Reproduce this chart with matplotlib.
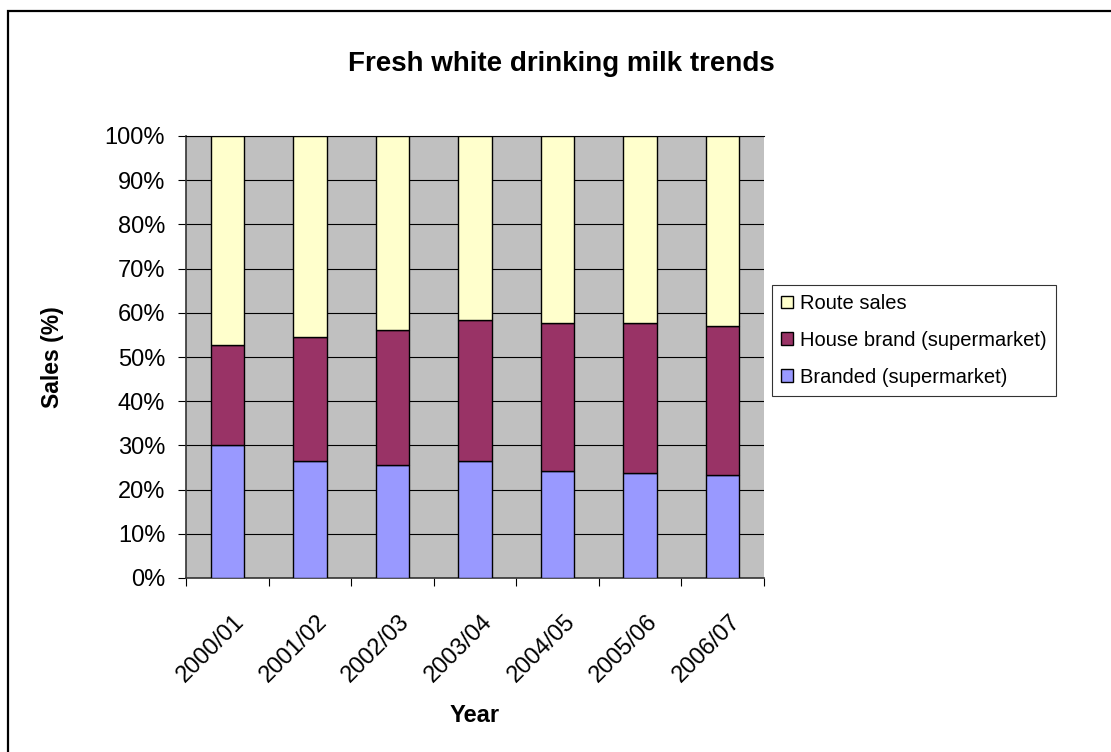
#!/usr/bin/env python3
"""Fresh white drinking milk trends -- 100% stacked bars, Excel-2003 look."""
import matplotlib
matplotlib.use("Agg")
import matplotlib.pyplot as plt
from matplotlib.patches import Patch, Rectangle
from matplotlib.ticker import FixedLocator, FuncFormatter, NullFormatter
from matplotlib.transforms import ScaledTranslation

plt.rcParams["font.family"] = ["Liberation Sans", "DejaVu Sans"]

years = ["2000/01", "2001/02", "2002/03", "2003/04", "2004/05", "2005/06", "2006/07"]
branded = [30.0, 26.5, 25.5, 26.5, 24.2, 23.8, 23.4]      # % of sales
house_brand = [22.8, 28.0, 30.6, 31.8, 33.6, 34.0, 33.6]
route_sales = [47.2, 45.5, 43.9, 41.7, 42.2, 42.2, 43.0]

C_BRANDED = "#9999FF"
C_HOUSE = "#993366"
C_ROUTE = "#FFFFCC"

W, H = 1111, 752
fig = plt.figure(figsize=(W / 100, H / 100), dpi=100)
ax = fig.add_axes([186 / W, 1 - 578 / H, (764 - 186) / W, (578 - 136) / H])
ax.set_facecolor("#C0C0C0")

x = range(len(years))
bot2 = [b + h for b, h in zip(branded, house_brand)]
kw = dict(width=0.405, edgecolor="black", linewidth=1.0, zorder=3)
ax.bar(x, branded, color=C_BRANDED, **kw)
ax.bar(x, house_brand, bottom=branded, color=C_HOUSE, **kw)
ax.bar(x, route_sales, bottom=bot2, color=C_ROUTE, **kw)

ax.set_xlim(-0.5, len(years) - 0.5)
ax.set_ylim(0, 100)
ax.set_yticks(range(0, 101, 10))
ax.yaxis.set_major_formatter(FuncFormatter(lambda v, _p: f"{v:.0f}%"))
ax.grid(axis="y", color="black", linewidth=0.8, zorder=1)
ax.set_axisbelow(True)

# tick marks on the category boundaries, labels drawn at the centres
ax.set_xticks([])
ax.xaxis.set_minor_locator(FixedLocator([i - 0.5 for i in range(len(years) + 1)]))
ax.xaxis.set_minor_formatter(NullFormatter())
ax.tick_params(axis="x", which="minor", length=6, width=0.8, color="black", direction="out")
ax.tick_params(axis="y", length=6, width=0.8, color="black", direction="out",
               labelsize=17, pad=9)
lab_tr = ax.get_xaxis_transform() + ScaledTranslation(14 / 100, -40 / 100, fig.dpi_scale_trans)
for i, yr in enumerate(years):
    ax.text(i, 0, yr, transform=lab_tr, rotation=45, rotation_mode="anchor",
            ha="right", va="center", fontsize=17)

ax.spines["right"].set_visible(False)
ax.spines["top"].set_linewidth(0.8)
for s in ("left", "bottom"):
    ax.spines[s].set_color("#333333")
    ax.spines[s].set_linewidth(1.2)

fig.text(561 / W, 1 - 64 / H, "Fresh white drinking milk trends", ha="center", va="center",
         fontsize=20, fontweight="bold")
ax.set_xlabel("Year", fontsize=17, fontweight="bold")
ax.xaxis.set_label_coords(0.5, -(715 - 578) / (578 - 136))
ax.xaxis.label.set_va("center")
ax.set_ylabel("Sales (%)", fontsize=16.5, fontweight="bold")
ax.yaxis.set_label_coords(-(186 - 53) / (764 - 186), 0.5)
ax.yaxis.label.set_va("center")

handles = [Patch(facecolor=C_ROUTE, edgecolor="black", linewidth=1.0),
           Patch(facecolor=C_HOUSE, edgecolor="black", linewidth=1.0),
           Patch(facecolor=C_BRANDED, edgecolor="black", linewidth=1.0)]
labels = ["Route sales", "House brand (supermarket)", "Branded (supermarket)"]
leg = fig.legend(handles, labels, loc="upper left",
                 bbox_to_anchor=(772 / W, 1 - 285 / H), fontsize=14.5,
                 frameon=True, fancybox=False, shadow=False, borderaxespad=0,
                 borderpad=0.45, handlelength=0.6, handleheight=0.6,
                 handletextpad=0.35, labelspacing=0.88)
leg.get_frame().set_edgecolor("black")
leg.get_frame().set_linewidth(0.8)

# outer chart-area frame (right and bottom edges fall outside the image)
fig.add_artist(Rectangle((8 / W, -0.1), 1.2, 1.1 - 11 / H, transform=fig.transFigure,
                         fill=False, edgecolor="black", linewidth=1.6, clip_on=False))

fig.savefig("out.png", dpi=100)
